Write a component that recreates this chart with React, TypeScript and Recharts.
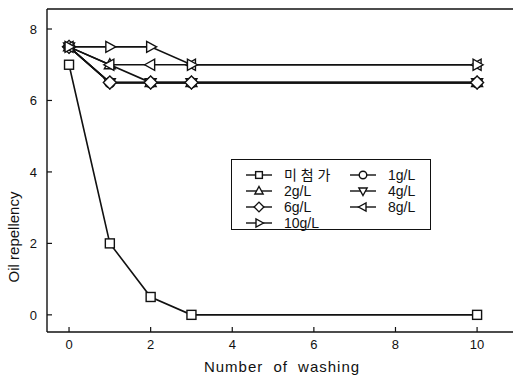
import { Line, LineChart, ReferenceLine, XAxis, YAxis } from "recharts";

// washing count and oil repellency per concentration
const WASHES = [0, 1, 2, 3, 10];
const NONE = [7, 2, 0.5, 0, 0];
const G1 = [7.5, 6.5, 6.5, 6.5, 6.5];
const G2 = [7.5, 7, 6.5, 6.5, 6.5];
const G4 = [7.5, 6.5, 6.5, 6.5, 6.5];
const G6 = [7.5, 6.5, 6.5, 6.5, 6.5];
const G8 = [7.5, 7, 7, 7, 7];
const G10 = [7.5, 7.5, 7.5, 7, 7];

const X_TICKS = [0, 2, 4, 6, 8, 10];
const Y_TICKS = [0, 2, 4, 6, 8];

type Shape = "square" | "circle" | "up" | "down" | "diamond" | "left" | "right";

const SERIES: { key: string; name: string; values: number[]; shape: Shape }[] = [
  { key: "none", name: "미 첨 가", values: NONE, shape: "square" },
  { key: "g1", name: "1g/L", values: G1, shape: "circle" },
  { key: "g2", name: "2g/L", values: G2, shape: "up" },
  { key: "g4", name: "4g/L", values: G4, shape: "down" },
  { key: "g6", name: "6g/L", values: G6, shape: "diamond" },
  { key: "g8", name: "8g/L", values: G8, shape: "left" },
  { key: "g10", name: "10g/L", values: G10, shape: "right" },
];

const data = WASHES.map((wash, i) => {
  const row: Record<string, number> = { wash };
  SERIES.forEach((s) => (row[s.key] = s.values[i]));
  return row;
});

const FONT = "'Liberation Sans', Arial, sans-serif";

function Marker({ cx, cy, shape, k = 1 }: { cx: number; cy: number; shape: Shape; k?: number }) {
  const p = { fill: "#fff", stroke: "#111", strokeWidth: 1.4 };
  const pts = (arr: number[][]) => arr.map(([x, y]) => `${cx + x * k},${cy + y * k}`).join(" ");
  switch (shape) {
    case "square":
      return <rect x={cx - 4.5 * k} y={cy - 4.5 * k} width={9 * k} height={9 * k} {...p} />;
    case "circle":
      return <circle cx={cx} cy={cy} r={5 * k} {...p} />;
    case "up":
      return <polygon points={pts([[0, -6], [5.5, 4], [-5.5, 4]])} {...p} />;
    case "down":
      return <polygon points={pts([[0, 6], [5.5, -4], [-5.5, -4]])} {...p} />;
    case "diamond":
      return <polygon points={pts([[0, -6.5], [6.5, 0], [0, 6.5], [-6.5, 0]])} {...p} />;
    case "left":
      return <polygon points={pts([[-6, 0], [4, -5.5], [4, 5.5]])} {...p} />;
    default:
      return <polygon points={pts([[6, 0], [-4, -5.5], [-4, 5.5]])} {...p} />;
  }
}

function XTick({ x, y, payload }: any) {
  return (
    <g>
      <line x1={x} y1={y} x2={x} y2={y - 5} stroke="#111" strokeWidth={1.2} />
      <text x={x} y={y + 17} textAnchor="middle" fontSize={13} fontFamily={FONT} fill="#111">
        {payload.value}
      </text>
    </g>
  );
}

function YTick({ x, y, payload }: any) {
  return (
    <g>
      <line x1={x} y1={y} x2={x + 5} y2={y} stroke="#111" strokeWidth={1.2} />
      <text x={x - 10} y={y + 5} textAnchor="end" fontSize={13} fontFamily={FONT} fill="#111">
        {payload.value}
      </text>
    </g>
  );
}

function LegendItem({ name, shape }: { name: string; shape: Shape }) {
  return (
    <div style={{ display: "flex", alignItems: "center", height: 16 }}>
      <svg width={30} height={14} style={{ marginRight: 10 }}>
        <line x1={2} y1={7} x2={28} y2={7} stroke="#111" strokeWidth={1.4} />
        <Marker cx={15} cy={7} shape={shape} k={0.75} />
      </svg>
      <span>{name}</span>
    </div>
  );
}

function LegendBox() {
  return (
    <div
      style={{
        position: "absolute",
        left: 231,
        top: 159,
        width: 200,
        height: 71,
        border: "1.5px solid #111",
        background: "#fff",
        boxSizing: "border-box",
        padding: "7px 0 0 12px",
        display: "grid",
        gridTemplateColumns: "104px 90px",
        gridAutoRows: "16px",
        fontSize: 14,
        fontFamily: `${FONT}, 'Noto Sans CJK KR'`,
        color: "#111",
        lineHeight: "16px",
      }}
    >
      {SERIES.map((s) => (
        <LegendItem key={s.key} name={s.name} shape={s.shape} />
      ))}
    </div>
  );
}

export default function App() {
  return (
    <div style={{ position: "absolute", left: 0, top: 0, width: 513, height: 376, background: "#fff" }}>
      <LineChart width={513} height={376} data={data} margin={{ top: 9, right: 0, left: 0, bottom: 0 }}>
        <XAxis
          dataKey="wash"
          type="number"
          domain={[-0.54, 10.88]}
          ticks={X_TICKS}
          allowDataOverflow
          height={44}
          tickSize={0}
          tickMargin={0}
          tickLine={false}
          tick={<XTick />}
          axisLine={{ stroke: "#111", strokeWidth: 1.4 }}
          label={{
            content: () => (
              <text
                x={282}
                y={372}
                textAnchor="middle"
                fontSize={15}
                fontFamily={FONT}
                letterSpacing={1}
                wordSpacing={5}
                fill="#111"
              >
                Number of washing
              </text>
            ),
          }}
        />
        <YAxis
          type="number"
          domain={[-0.48, 8.56]}
          ticks={Y_TICKS}
          allowDataOverflow
          width={47}
          tickSize={0}
          tickMargin={0}
          tickLine={false}
          tick={<YTick />}
          axisLine={{ stroke: "#111", strokeWidth: 1.4 }}
          label={{
            content: () => (
              <text
                x={0}
                y={0}
                transform="translate(19,237) rotate(-90)"
                textAnchor="middle"
                fontSize={15}
                fontFamily={FONT}
                fill="#111"
              >
                Oil repellency
              </text>
            ),
          }}
        />
        <ReferenceLine y={8.56} stroke="#111" strokeWidth={1.4} ifOverflow="visible" />
        {SERIES.map((s) => (
          <Line
            key={s.key}
            dataKey={s.key}
            name={s.name}
            type="linear"
            stroke="#111"
            strokeWidth={1.6}
            isAnimationActive={false}
            dot={(p: any) => <Marker key={`${s.key}-${p.index}`} cx={p.cx} cy={p.cy} shape={s.shape} />}
            activeDot={false}
          />
        ))}
      </LineChart>
      <LegendBox />
    </div>
  );
}
